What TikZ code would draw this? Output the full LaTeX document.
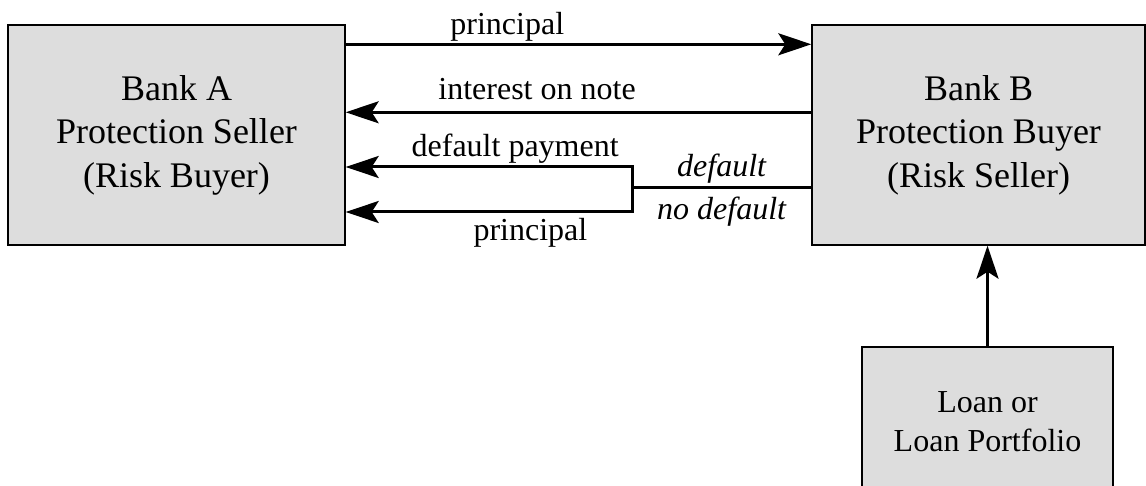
\documentclass[tikz,border=0pt]{standalone}
\usepackage{fontspec}
\setmainfont{Liberation Serif}
\usetikzlibrary{arrows.meta}
\usetikzlibrary{calc}
\usetikzlibrary{positioning}
\definecolor{boxgray}{RGB}{221,221,221}

\begin{document}
\begin{tikzpicture}[
		x=0.5pt, y=-0.5pt,
		bank/.style={rectangle, draw, line width=0.7pt, fill=boxgray, align=center, font=\fontsize{18}{21.75}\selectfont},
		flow/.style={line width=1.5pt, -{Stealth[length=16.5pt, width=11pt, inset=3.5pt]}},
		wire/.style={line width=1.5pt},
		lbl/.style={font=\fontsize{16}{19.2}\selectfont, anchor=base, inner sep=0pt}
	]
	\useasboundingbox (0,0) rectangle (1146,486);

	\node[bank, minimum width=168.5pt, minimum height=110pt] (bankA) at (176.5,135) {Bank A\\Protection Seller\\(Risk Buyer)};
	\node[bank, minimum width=166.5pt, minimum height=110pt] (bankB) at (978.5,135) {Bank B\\Protection Buyer\\(Risk Seller)};
	\node[bank, minimum width=125.5pt, minimum height=75pt, font=\fontsize{16}{19.5}\selectfont] (loan) at (987.5,422) {Loan or\\Loan Portfolio};

	\coordinate (fork) at (632,188);
	\coordinate (forkT) at (632,167);
	\coordinate (forkB) at (632,212);

	% payments between the banks
	\draw[flow] ($(bankA.north east)+(0,20)$) -- node[lbl, pos=0.347, yshift=5pt] {principal} ($(bankB.north west)+(0,20)$);
	\draw[flow] ($(bankB.north west)+(0,88)$) -- node[lbl, pos=0.589, yshift=6.5pt] {interest on note} ($(bankA.north east)+(0,88)$);

	% default / no default branch
	\draw[wire] (bankB.west |- fork) -- node[lbl, pos=0.5, yshift=5.5pt] {\itshape default} node[lbl, pos=0.5, yshift=-16pt] {\itshape no default} (fork);
	\draw[wire, line cap=rect] (forkT) -- (forkB);
	\draw[flow] (forkT) -- node[lbl, pos=0.408, yshift=5pt] {default payment} (bankA.east |- forkT);
	\draw[flow] (forkB) -- node[lbl, pos=0.355, yshift=-14.5pt] {principal} (bankA.east |- forkB);

	\draw[flow] (loan.north) -- (loan.north |- bankB.south);
\end{tikzpicture}
\end{document}
